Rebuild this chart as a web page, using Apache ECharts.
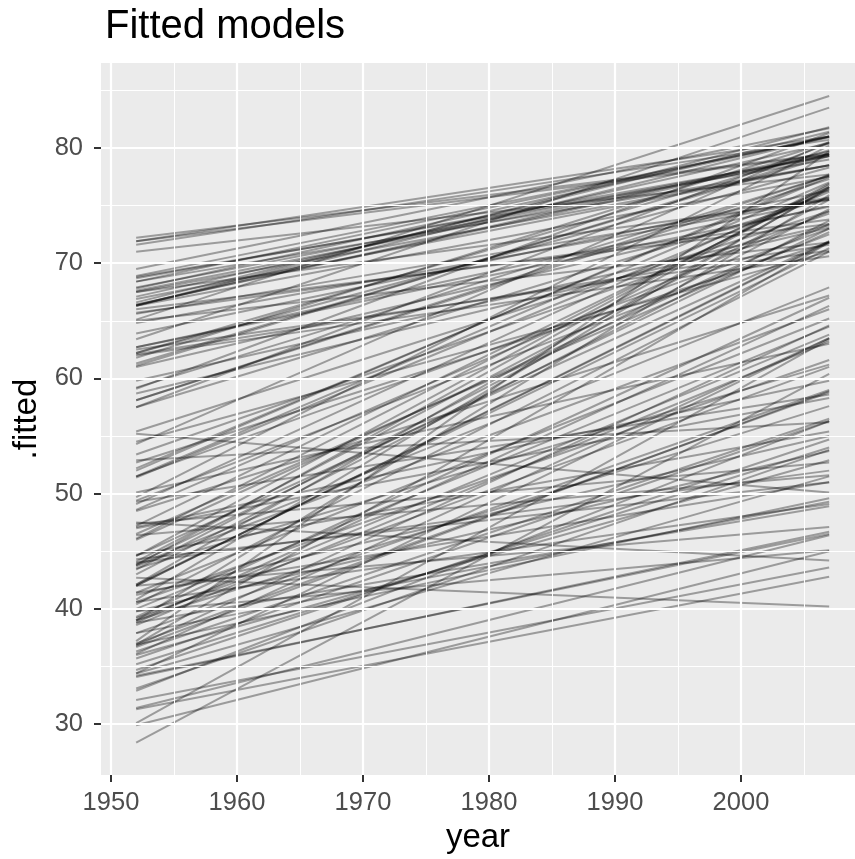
<!DOCTYPE html>
<html>
<head>
<meta charset="utf-8">
<script src="https://cdn.jsdelivr.net/npm/echarts@6/dist/echarts.min.js"></script>
<style>html,body{margin:0;padding:0;background:#fff}#c{width:855px;height:859px}</style>
</head>
<body>
<div id="c"></div>
<script>
// Fitted linear model per country: value at 1952 and at 2007
const countries = ["Algeria","Angola","Benin","Botswana","Burkina Faso","Burundi","Cameroon","Central African Republic","Chad","Comoros","Congo, Dem. Rep.","Congo, Rep.","Cote d'Ivoire","Djibouti","Egypt","Equatorial Guinea","Eritrea","Ethiopia","Gabon","Gambia","Ghana","Guinea","Guinea-Bissau","Kenya","Lesotho","Liberia","Libya","Madagascar","Malawi","Mali","Mauritania","Mauritius","Morocco","Mozambique","Namibia","Niger","Nigeria","Reunion","Rwanda","Sao Tome and Principe","Senegal","Sierra Leone","Somalia","South Africa","Sudan","Swaziland","Tanzania","Togo","Tunisia","Uganda","Zambia","Zimbabwe",
"Argentina","Bolivia","Brazil","Canada","Chile","Colombia","Costa Rica","Cuba","Dominican Republic","Ecuador","El Salvador","Guatemala","Haiti","Honduras","Jamaica","Mexico","Nicaragua","Panama","Paraguay","Peru","Puerto Rico","Trinidad and Tobago","United States","Uruguay","Venezuela",
"Afghanistan","Bahrain","Bangladesh","Cambodia","China","Hong Kong, China","India","Indonesia","Iran","Iraq","Israel","Japan","Jordan","Korea, Dem. Rep.","Korea, Rep.","Kuwait","Lebanon","Malaysia","Mongolia","Myanmar","Nepal","Oman","Pakistan","Philippines","Saudi Arabia","Singapore","Sri Lanka","Syria","Taiwan","Thailand","Vietnam","West Bank and Gaza","Yemen, Rep.",
"Albania","Austria","Belgium","Bosnia and Herzegovina","Bulgaria","Croatia","Czech Republic","Denmark","Finland","France","Germany","Greece","Hungary","Iceland","Ireland","Italy","Montenegro","Netherlands","Norway","Poland","Portugal","Romania","Serbia","Slovak Republic","Slovenia","Spain","Sweden","Switzerland","Turkey","United Kingdom",
"Australia","New Zealand"];

const fit1952 = [43.4,32.1,39.0,52.9,34.7,40.6,41.2,38.8,39.8,39.0,42.0,44.7,44.0,36.3,40.4,34.4,35.7,36.0,38.6,28.4,43.5,32.9,31.4,47.0,47.4,39.8,42.1,36.7,36.9,33.1,40.0,55.4,42.0,34.2,47.1,35.2,37.9,52.2,42.7,48.5,36.8,31.3,34.1,49.3,37.9,46.4,41.4,40.6,44.6,44.3,47.5,55.2,
62.7,38.8,51.5,68.9,54.3,53.4,59.1,62.2,48.6,49.1,46.5,42.1,39.2,42.0,62.7,51.4,43.0,58.1,62.0,43.9,66.9,62.1,68.4,65.6,57.5,
29.9,52.0,36.1,37.0,47.2,63.4,39.3,36.9,44.6,50.1,66.3,65.1,44.1,54.5,49.7,57.5,58.7,51.5,43.8,41.4,34.4,37.2,43.7,49.4,40.8,61.8,59.8,46.1,61.3,52.7,39.0,43.8,30.1,
59.2,66.4,67.9,58.1,65.7,63.9,67.5,71.0,66.4,67.8,67.6,67.1,65.0,71.9,67.5,66.6,62.2,71.9,72.2,64.8,61.1,62.5,61.0,66.0,66.3,66.3,71.6,69.5,46.0,68.8,
68.4,68.7];

const fit2007 = [74.7,43.6,57.6,56.2,54.7,49.1,55.0,48.9,53.7,63.8,47.1,55.4,52.0,56.5,71.0,51.5,56.3,52.9,63.2,60.4,61.2,56.3,46.4,58.3,52.7,45.1,76.5,58.9,49.6,53.8,64.5,74.5,71.8,46.5,59.8,54.0,49.3,77.5,40.2,67.2,64.6,42.8,46.7,58.6,59.0,51.6,51.0,61.6,76.9,51.0,44.2,50.1,
75.5,66.3,73.0,80.9,80.5,74.3,81.3,79.8,74.5,76.6,72.7,71.3,61.0,71.9,74.9,76.2,73.7,77.6,70.6,73.0,78.5,71.6,78.5,75.7,75.7,
45.0,77.7,63.5,58.8,76.4,83.5,67.0,71.8,71.9,63.0,81.0,84.5,75.5,71.0,80.2,80.4,73.1,77.0,67.9,65.2,63.5,79.7,66.0,72.5,76.6,80.5,73.3,76.6,79.3,71.8,75.9,76.8,63.4,
77.6,79.7,79.4,77.3,73.8,76.3,75.5,77.7,79.5,81.0,79.3,80.4,71.8,81.0,78.5,81.4,78.3,79.4,79.5,75.6,79.5,71.1,75.0,73.4,77.5,81.8,80.7,81.7,73.4,79.0,
81.0,79.3];

const years = [1952, 2007];
const xMajor = [1950,1960,1970,1980,1990,2000];
const xMinor = [1955,1965,1975,1985,1995,2005];
const yMajor = [30,40,50,60,70,80];
const yMinor = [35,45,55,65,75,85];

const FONT = 'Liberation Sans, Arial, Helvetica, sans-serif';
const chart = echarts.init(document.getElementById('c'), null, {renderer:'canvas'});

const gridSeries = {
  type:'line', data:[], z:1, silent:true, symbol:'none',
  markLine:{
    silent:true, symbol:'none', animation:false,
    label:{show:false},
    data: [
      ...xMinor.map(v=>({xAxis:v, lineStyle:{color:'#fff', width:1, type:'solid'}})),
      ...yMinor.map(v=>({yAxis:v, lineStyle:{color:'#fff', width:1, type:'solid'}})),
      ...xMajor.map(v=>({xAxis:v, lineStyle:{color:'#fff', width:2.2, type:'solid'}})),
      ...yMajor.map(v=>({yAxis:v, lineStyle:{color:'#fff', width:2.2, type:'solid'}}))
    ]
  }
};

const lineSeries = countries.map((c,i)=>({
  name:c, type:'line', z:2, symbol:'none', silent:true, animation:false,
  lineStyle:{color:'rgba(0,0,0,0.34)', width:2},
  data: [[years[0], fit1952[i]],[years[1], fit2007[i]]]
}));

chart.setOption({
  animation:false,
  backgroundColor:'#fff',
  title:{text:'Fitted models', left:100, top:2, textStyle:{fontFamily:FONT, fontSize:40, fontWeight:'normal', color:'#000'}},
  grid:{left:101, top:63, width:754, height:713, show:true, backgroundColor:'#ebebeb', borderWidth:0, containLabel:false},
  xAxis:{type:'value', min:1949.21, max:2009.05,
    name:'year', nameLocation:'middle', nameGap:44,
    nameTextStyle:{fontFamily:FONT, fontSize:33, color:'#000'},
    axisLine:{show:false}, splitLine:{show:false},
    axisTick:{show:true, customValues:xMajor, length:7, lineStyle:{color:'#333', width:2}},
    axisLabel:{customValues:xMajor, margin:15, formatter:(v)=>String(v), fontFamily:FONT, fontSize:25.5, color:'#4d4d4d'}
  },
  yAxis:{type:'value', min:25.58, max:87.37,
    name:'.fitted', nameLocation:'middle', nameGap:51, nameRotate:90,
    nameTextStyle:{fontFamily:FONT, fontSize:33, color:'#000'},
    axisLine:{show:false}, splitLine:{show:false},
    axisTick:{show:true, customValues:yMajor, length:7, lineStyle:{color:'#333', width:2}},
    axisLabel:{customValues:yMajor, margin:18, formatter:(v)=>String(v), fontFamily:FONT, fontSize:25.5, color:'#4d4d4d'}
  },
  series:[gridSeries, ...lineSeries]
});
</script>
</body>
</html>
